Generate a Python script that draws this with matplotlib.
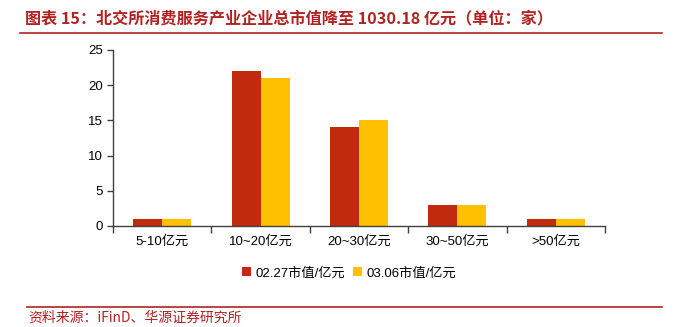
import matplotlib.pyplot as plt
import numpy as np

plt.rcParams['font.family'] = ['Liberation Sans', 'Noto Sans CJK SC', 'DejaVu Sans']

categories = ['5-10亿元', '10~20亿元', '20~30亿元', '30~50亿元', '>50亿元']
v_0227 = [1, 22, 14, 3, 1]
v_0306 = [1, 21, 15, 3, 1]
series_names = ['02.27市值/亿元', '03.06市值/亿元']

red = '#C12A0C'
yellow = '#FFC000'
dark_red = '#B22222'
cjk = ['Noto Sans CJK SC', 'DejaVu Sans']

fig = plt.figure(figsize=(6.8, 3.27), dpi=100)
ax = fig.add_axes([113/680, 1-226/327, 492/680, 176/327])

x = np.arange(len(categories))
w = 0.295
ax.bar(x - w/2, v_0227, w, color=red, label=series_names[0])
ax.bar(x + w/2, v_0306, w, color=yellow, label=series_names[1])

ax.set_xlim(-0.5, len(categories) - 0.5)
ax.set_ylim(0, 25)
ax.set_yticks(range(0, 26, 5))
ax.set_xticks(np.arange(len(categories) + 1) - 0.5, minor=False)
ax.set_xticklabels([])
ax.tick_params(axis='x', length=5, width=1, direction='out', color='#404040')
ax.set_xticks(x, minor=True)
ax.set_xticklabels(categories, minor=True, fontsize=9.5)
ax.tick_params(axis='x', which='minor', length=0, pad=7)
ax.tick_params(axis='y', length=4, width=1, direction='out', color='#404040', labelsize=9.5, pad=3)
for s in ['top', 'right']:
    ax.spines[s].set_visible(False)
for s in ['left', 'bottom']:
    ax.spines[s].set_color('#404040')
    ax.spines[s].set_linewidth(1)

ax.legend(loc='upper center', bbox_to_anchor=(0.48, -0.165), ncol=2, frameon=False,
          fontsize=9.5, handlelength=0.7, handleheight=0.7, handletextpad=0.3,
          columnspacing=0.6)

# title and source lines
fig.text(25/680, 1-18/327, '图表 15：北交所消费服务产业企业总市值降至 1030.18 亿元（单位：家）',
         color=dark_red, fontsize=11.6, fontweight='bold', va='center', ha='left', family=cjk)
fig.add_artist(plt.Line2D([20/680, 662/680], [1-33/327, 1-33/327], color=dark_red, lw=1.2))
fig.add_artist(plt.Line2D([27/680, 662/680], [1-307/327, 1-307/327], color=dark_red, lw=1.2))
fig.text(28/680, 1-318/327, '资料来源：iFinD、华源证券研究所', color=dark_red, fontsize=10,
         va='center', ha='left', family=cjk)

fig.savefig('out.png', dpi=100)
